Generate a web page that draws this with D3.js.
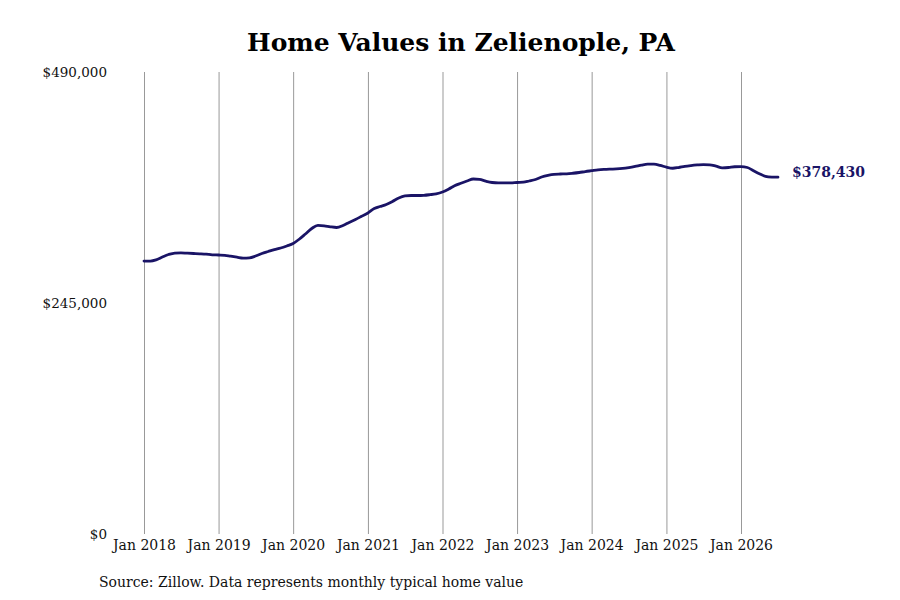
<!DOCTYPE html>
<html>
<head>
<meta charset="utf-8">
<script src="https://cdn.jsdelivr.net/npm/d3@7"></script>
<style>
  html, body { margin: 0; padding: 0; background: #fff; }
  svg { display: block; font-family: "DejaVu Serif", serif; }
</style>
</head>
<body>
<svg id="chart" width="900" height="600"></svg>
<script>
// monthly typical home value, Jan 2018 onwards
const startMonth = new Date(2018, 0, 1);
const values = [
  289500, 289500, 290800, 293800, 296400, 298000, 298200, 297800, 297500, 297200, 296800, 296100,
  295900, 295600, 294600, 293600, 292700, 292900, 294800, 297500, 299600, 301600, 303300, 305500,
  308100, 312900, 318200, 324000, 327400, 326900, 325800, 325100, 327200, 330400, 333600, 337000,
  340500, 345200, 347300, 349500, 352700, 356400, 358500, 359000, 359000, 359200, 359900, 360800,
  362700, 365900, 369300, 372000, 374400, 376500, 376000, 374200, 372800, 372300, 372300, 372300,
  372800, 373100, 374400, 376000, 378600, 380400, 381500, 381800, 382000, 382600, 383400, 384400,
  385300, 386200, 386700, 387000, 387200, 387700, 388600, 389800, 391200, 392200, 392200, 391000,
  389000, 387900, 388700, 390000, 390800, 391400, 391800, 391600, 390100, 388400, 388700, 389500,
  389600, 388700, 385600, 382100, 379400, 378600, 378430
];
const tickYears = [2018, 2019, 2020, 2021, 2022, 2023, 2024, 2025, 2026];
const yTicks = [0, 245000, 490000];

const title = "Home Values in Zelienople, PA";
const source = "Source: Zillow. Data represents monthly typical home value";

const data = values.map((v, i) => ({
  date: d3.timeMonth.offset(startMonth, i),
  value: v,
}));

const svg = d3.select("#chart");
const lineColor = "#1a1466";

const x = d3
  .scaleTime()
  .domain([new Date(2018, 0, 1), new Date(2026, 0, 1)])
  .range([144, 741]);

const y = d3.scaleLinear().domain([0, 490000]).range([534, 72]);

// vertical grid at each January
const xAxis = d3
  .axisBottom(x)
  .tickValues(tickYears.map((yr) => new Date(yr, 0, 1)))
  .tickSize(y(490000) - y(0))
  .tickFormat(d3.timeFormat("Jan %Y"));

const gx = svg
  .append("g")
  .attr("transform", `translate(0,${y(0)})`)
  .call(xAxis);
gx.select(".domain").remove();
gx.selectAll(".tick line").attr("stroke", "#999").attr("stroke-width", 1);
gx.selectAll(".tick text")
  .attr("y", 6)
  .attr("dy", "0.71em")
  .attr("fill", "#111")
  .style("font-family", "DejaVu Serif, serif")
  .style("font-size", "14px");

const yAxis = d3
  .axisLeft(y)
  .tickValues(yTicks)
  .tickSize(0)
  .tickPadding(0)
  .tickFormat((d) => "$" + d3.format(",")(d));

const gy = svg.append("g").attr("transform", "translate(107,0)").call(yAxis);
gy.select(".domain").remove();
gy.selectAll(".tick line").remove();
gy.selectAll(".tick text")
  .attr("fill", "#111")
  .style("font-family", "DejaVu Serif, serif")
  .style("font-size", "13.5px");

const line = d3
  .line()
  .x((d) => x(d.date))
  .y((d) => y(d.value))
  .curve(d3.curveMonotoneX);

svg
  .append("path")
  .datum(data)
  .attr("fill", "none")
  .attr("stroke", lineColor)
  .attr("stroke-width", 2.8)
  .attr("stroke-linejoin", "round")
  .attr("stroke-linecap", "round")
  .attr("d", line);

const last = data[data.length - 1];
svg
  .append("text")
  .attr("x", x(last.date) + 14)
  .attr("y", y(last.value) - 5)
  .attr("dy", "0.35em")
  .attr("fill", lineColor)
  .style("font-size", "14px")
  .style("font-weight", "bold")
  .text("$" + d3.format(",")(last.value));

svg
  .append("text")
  .attr("x", 461)
  .attr("y", 51)
  .attr("text-anchor", "middle")
  .attr("fill", "#000")
  .style("font-size", "25px")
  .style("font-weight", "bold")
  .text(title);

svg
  .append("text")
  .attr("x", 99)
  .attr("y", 587)
  .attr("fill", "#111")
  .style("font-size", "14px")
  .text(source);
</script>
</body>
</html>
